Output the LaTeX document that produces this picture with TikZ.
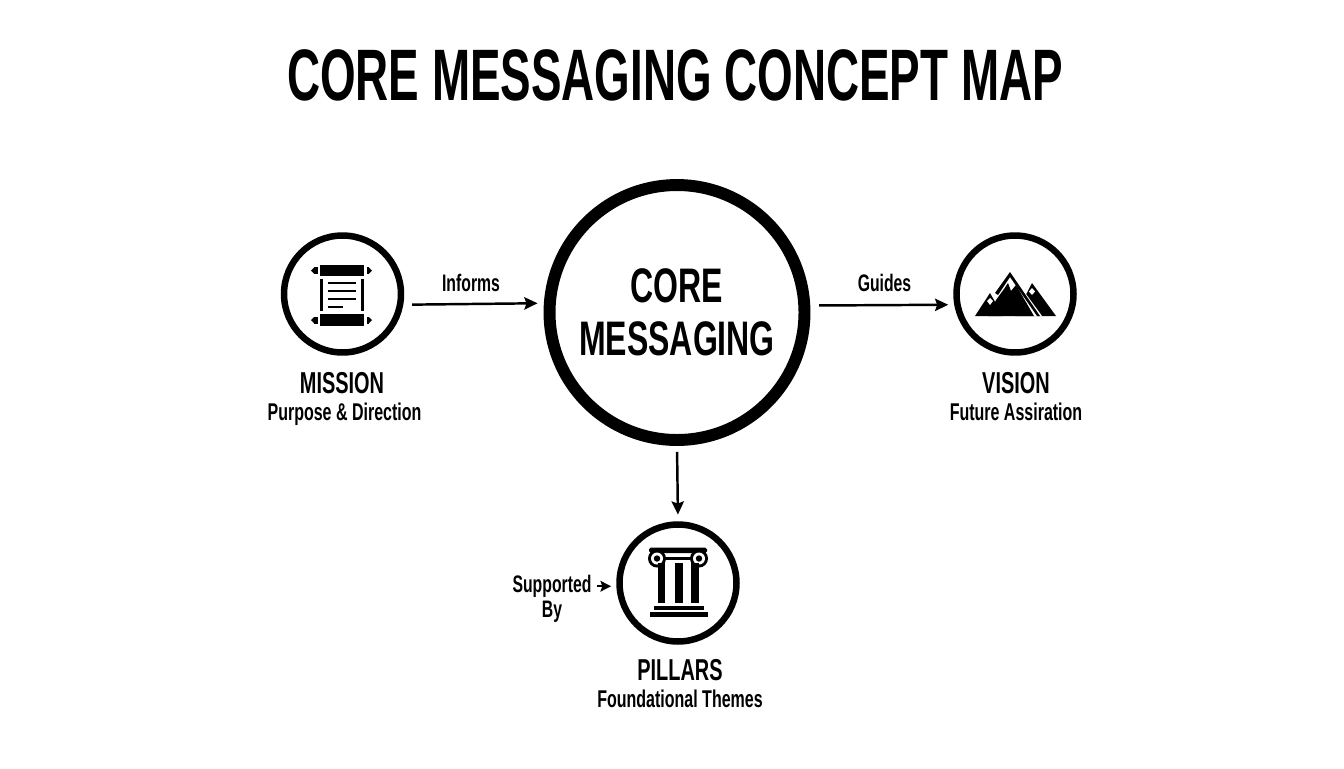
\documentclass[tikz,border=0pt]{standalone}
\usepackage{fontspec}
\setmainfont{Liberation Sans}
\newfontfamily\narrowfont[FakeStretch=0.66]{Liberation Sans}
\newfontfamily\titlefont[FakeStretch=0.628]{Liberation Sans}
\usepackage{tikz}
\usetikzlibrary{arrows.meta,positioning}

\begin{document}
\begin{tikzpicture}[x=0.02cm,y=-0.02cm,
    hub/.style={circle,draw,line width=6.8pt,minimum size=5.1cm,inner sep=0pt,align=center},
    topic/.style={circle,draw,line width=3.7pt,minimum size=2.34cm,inner sep=0pt},
    flow/.style={-{Stealth[length=7.5pt,width=7pt,inset=1.2pt]},line width=1.4pt},
    heading/.style={font=\narrowfont\bfseries\fontsize{17.2}{19}\selectfont,inner sep=0pt,anchor=base},
    subtext/.style={font=\narrowfont\bfseries\fontsize{13.8}{15}\selectfont,inner sep=0pt,anchor=base},
    linklabel/.style={font=\narrowfont\bfseries\fontsize{13.6}{14.4}\selectfont,inner sep=0pt,anchor=base,align=center}]

    \useasboundingbox (0,0) rectangle (1344,768);

    % Title
    \node[inner sep=0pt,anchor=base,font=\titlefont\bfseries\fontsize{41.5}{46}\selectfont] (title) at (675,100) {CORE MESSAGING CONCEPT MAP};

    % Circles
    \node[hub,font=\narrowfont\bfseries\fontsize{27.6}{30.5}\selectfont] (core) at (677,312.5) {CORE\\MESSAGING};
    \node[topic] (mission) at (342.5,294) {};
    \node[topic] (vision) at (1015,294) {};
    \node[topic] (pillars) at (678,583) {};

    % Scroll icon
    \fill (320,265) rectangle (364,276);
    \fill (320,314) rectangle (364,326);
    \fill (320,279) rectangle (323,311);
    \fill (361,279) rectangle (364,311);
    \foreach \ypos in {270.5,320} {
        \fill (314,\ypos-3.5) rectangle (317.5,\ypos+3.5);
        \fill (314,\ypos-3) -- (311,\ypos) -- (314,\ypos+3) -- cycle;
        \fill (366.5,\ypos-3.5) rectangle (369,\ypos+3.5);
        \fill (369,\ypos-3) -- (372,\ypos) -- (369,\ypos+3) -- cycle;
    }
    \foreach \ypos/\xend in {283/356,291/356,299/356,307/343}
        \draw[line width=1.3pt] (328,\ypos) -- (\xend,\ypos);

    % Mountain icon
    \fill (1032,283) -- (1056,316) -- (1015,316) -- cycle;
    \fill (990,293) -- (1003,316) -- (975,316) -- cycle;
    \fill[white] (1010,272) -- (1042,316) -- (1000,316) -- (995,294) -- cycle;
    \fill (1010,272) -- (1040,316) -- (1037,316) -- (1010,277) -- (998,295) -- (995,293) -- cycle;
    \fill (1004,289) -- (1008,283) -- (1011,291) -- (1016,285) -- (1034,316) -- (988,316) -- (996,300) -- cycle;
    \fill[white] (990,298) -- (993,301) -- (990,305) -- (987,301) -- cycle;
    \fill[white] (1032,288) -- (1035,291.5) -- (1032,295) -- (1029,291.5) -- cycle;

    % Column icon
    \fill[rounded corners=1pt] (649,547.5) rectangle (707,553);
    \fill (663,556.5) rectangle (695,560);
    \foreach \xpos in {657,699} {
        \fill (\xpos,558.5) circle (9);
        \fill[white] (\xpos,558.5) circle (6);
        \fill (\xpos,558.5) circle (3.2);
    }
    \fill (658,563) rectangle (665,603);
    \fill (675,563) rectangle (683,603);
    \fill (691,563) rectangle (699,603);
    \fill (654,606) rectangle (704,610);
    \fill (650,612) rectangle (708,617);

    % Labels
    \node[heading] (missionname) at (342,393.5) {MISSION};
    \node[subtext] (missionnote) at (344.5,420.5) {Purpose \& Direction};
    \node[heading] (visionname) at (1016,393.5) {VISION};
    \node[subtext] (visionnote) at (1016,420.5) {Future Assiration};
    \node[heading] (pillarsname) at (680,680.5) {PILLARS};
    \node[subtext] (pillarsnote) at (680,707.5) {Foundational Themes};

    % Links
    \node[linklabel] (informs) at (471,291) {Informs};
    \node[linklabel] (guides) at (884.5,291) {Guides};
    \node[linklabel,anchor=north] (support) at (552,575) {Supported\\By};

    \draw[flow,shorten <=5pt,shorten >=3.6pt] (mission.-10) -- (core.176.7);
    \draw[flow,shorten <=5pt,shorten >=3.4pt] (core.3.3) -- (vision.190);
    \draw[flow,shorten <=3.4pt,shorten >=3.8pt] (core.south) -- (pillars.north);
    \draw[flow,shorten <=2.8pt,shorten >=3pt,-{Stealth[length=6pt,width=6pt,inset=1pt]}] (support.east |- pillars.183) -- (pillars.183);
\end{tikzpicture}
\end{document}
